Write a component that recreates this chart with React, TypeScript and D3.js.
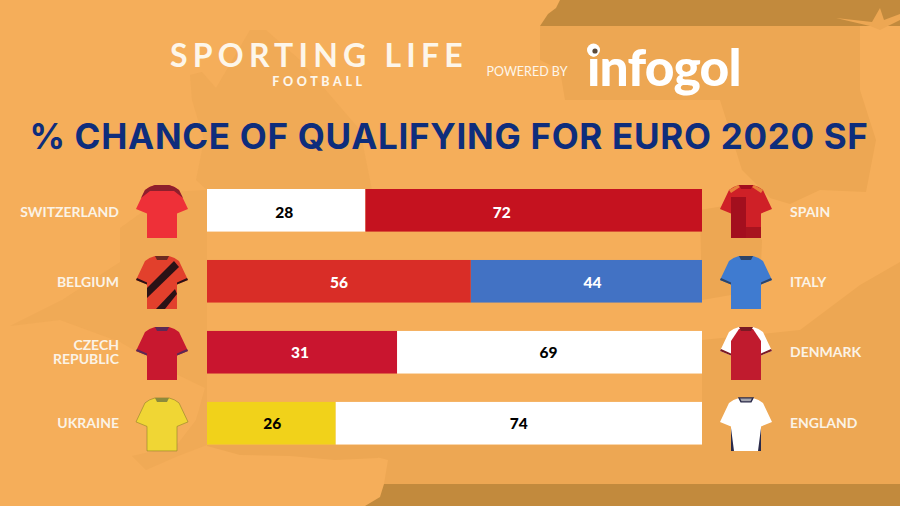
import * as d3 from "d3";

const leftTeams = ["SWITZERLAND", "BELGIUM", "CZECH REPUBLIC", "UKRAINE"];
const rightTeams = ["SPAIN", "ITALY", "DENMARK", "ENGLAND"];
const leftValues = [28, 56, 31, 26];
const rightValues = [72, 44, 69, 74];
// the reference's bars don't follow their printed numbers, so the drawn
// share of the left segment is read off the picture separately
const drawnLeftShare = [32, 53.3, 38.4, 26];
const leftColors = ["#ffffff", "#d92d27", "#c9152f", "#f1d21a"];
const rightColors = ["#c5121f", "#4272c4", "#ffffff", "#ffffff"];
const leftTextColors = ["#000000", "#ffffff", "#ffffff", "#000000"];
const rightTextColors = ["#ffffff", "#ffffff", "#000000", "#000000"];

const width = 900;
const height = 506;
const font = "Lato, 'Open Sans', sans-serif";
const rowNudge = [2, 1, 0, 0];
const leftNumberNudge = [-2, 0, -2, 1];
const rightNumberNudge = [-32, 6, -1, 0];

const x = d3.scaleLinear().domain([0, 100]).range([207, 702]);
const y = d3.scaleBand<number>().domain([0, 1, 2, 3]).range([189, 444.5]).paddingInner(0.4);

const SHIRT = "M-7,0 L7,0 Q13,1.5 17,5 L26,24 L15,28.5 L15,53 L-15,53 L-15,28.5 L-26,24 L-17,5 Q-13,1.5 -7,0 Z";
const YOKE = "M-7,0 L7,0 Q13,1.5 17,5 L21,13 L12,6 L-12,6 L-21,13 L-17,5 Q-13,1.5 -7,0 Z";
const COLLAR = "M-7,0 L7,0 L5,4 L-5,4 Z";
const CUFFS = "M-26,24 L-15,28.5 L-15,26.5 L-25,22 Z M26,24 L15,28.5 L15,26.5 L25,22 Z";

function Shirt({ team, cx, top }: { team: string; cx: number; top: number }) {
  const t = `translate(${cx},${top})`;
  if (team === "SWITZERLAND")
    return (
      <g transform={t}>
        <path d={SHIRT} fill="#ee3038" />
        <path d={YOKE} fill="#8e1f2c" />
      </g>
    );
  if (team === "BELGIUM")
    return (
      <g transform={t}>
        <path d={SHIRT} fill="#e2402c" />
        <path d="M-15,32 L12,5 L17,11 L-15,42 Z" fill="#2a1216" />
        <path d="M-6,53 L13,33 L15,38 L3,53 Z" fill="#2a1216" />
        <path d={CUFFS} fill="#2a1216" />
        <path d={COLLAR} fill="#6b2a20" />
      </g>
    );
  if (team === "CZECH REPUBLIC")
    return (
      <g transform={t}>
        <path d={SHIRT} fill="#c8182f" />
        <path d={CUFFS} fill="#5c2a55" />
        <path d={COLLAR} fill="#5c2a55" />
      </g>
    );
  if (team === "UKRAINE")
    return (
      <g transform={t}>
        <path d={SHIRT} fill="#f0d634" stroke="#8f7f2a" strokeWidth={0.6} />
        <path d={COLLAR} fill="#8d8a3c" />
      </g>
    );
  if (team === "SPAIN")
    return (
      <g transform={t}>
        <path d={SHIRT} fill="#cf2027" />
        <path d="M-15,12 L0,12 L0,53 L-15,53 Z" fill="#a30f1e" />
        <path d="M0,42 L15,42 L15,53 L0,53 Z" fill="#a8141f" />
        <path d="M-17,5 L-8,0 L-6,2 L-15,8 Z M17,5 L8,0 L6,2 L15,8 Z" fill="#e8813a" />
        <path d={COLLAR} fill="#a30f1e" />
      </g>
    );
  if (team === "ITALY")
    return (
      <g transform={t}>
        <path d={SHIRT} fill="#3f7bd0" />
        <path d={CUFFS} fill="#2d4468" />
        <path d={COLLAR} fill="#2d4468" />
      </g>
    );
  if (team === "DENMARK")
    return (
      <g transform={t}>
        <path d={SHIRT} fill="#ffffff" />
        <path d="M-7,2 L7,2 L15,14 L15,53 L-15,53 L-15,14 Z" fill="#c01b2e" />
        <path d={CUFFS} fill="#7a1a24" />
        <path d={COLLAR} fill="#7a1a24" />
      </g>
    );
  return (
    <g transform={t}>
      <path d={SHIRT} fill="#ffffff" />
      <path d="M-15,30 L-12,53 L-15,53 Z M15,30 L12,53 L15,53 Z" fill="#2a2a4a" />
      <path d={COLLAR} fill="#a5a5ad" stroke="#2a2a4a" strokeWidth={1.4} />
    </g>
  );
}

function TeamLabel({ name, px, anchor, cy }: { name: string; px: number; anchor: "start" | "end"; cy: number }) {
  const parts = name === "CZECH REPUBLIC" ? ["CZECH", "REPUBLIC"] : [name];
  const start = cy + 5 - (parts.length - 1) * 7;
  return (
    <text textAnchor={anchor} fontFamily={font} fontWeight={700} fontSize={14} fill="#fbf3e6">
      {parts.map((p, i) => (
        <tspan key={p} x={px} y={start + i * 14}>
          {p}
        </tspan>
      ))}
    </text>
  );
}

export default function App() {
  const rows = d3.range(leftTeams.length);
  return (
    <svg
      width={width}
      height={height}
      viewBox={`0 0 ${width} ${height}`}
      style={{ position: "absolute", left: 0, top: 0 }}
    >
      <rect width={width} height={height} fill="#f5ae5a" />
      {/* map silhouettes behind the chart */}
      <g fill="#eda753">
        <path d="M190,75 L202,72 L216,88 L250,30 L266,30 L300,60 L360,130 L372,190 L207,190 L196,180 L204,140 L192,100 Z" opacity={0.6} />
        <path d="M120,228 L170,192 L207,190 L207,445 L178,456 L146,470 L132,456 L176,446 L196,420 L205,388 L172,372 L120,342 L60,320 L10,326 L62,300 L120,262 Z" opacity={0.6} />
        <path d="M540,26 L860,26 L860,90 L876,140 L866,192 L820,190 L790,204 L770,198 L742,170 L720,100 L620,100 L565,100 L560,70 L540,60 Z" />
        <path d="M700,210 L730,205 L762,240 L760,290 L702,300 Z" />
        <path d="M702,340 L800,330 L860,285 L900,262 L900,484 L384,484 L388,460 L330,445 L702,445 Z" />
        <path d="M207,445 L385,445 L378,458 L335,460 L290,456 L240,455 L207,446 Z" />
      </g>
      {/* top and bottom bands */}
      <path d="M540,26 L548,14 L556,8 L560,0 L900,0 L900,26 Z" fill="#c28a3d" />
      <path d="M365,506 L380,497 L384,484 L900,484 L900,506 Z" fill="#c28a3d" />
      <path d="M836,18 L872,22 L880,8 L884,20 L900,14 L900,20 L880,30 L870,26 Z" fill="#eda753" />

      {/* header */}
      <text x={319} y={67} textAnchor="middle" fontFamily={font} fontWeight={700} fontSize={32} letterSpacing={5.2} fill="#fdf6ea">
        SPORTING LIFE
      </text>
      <text x={319} y={86} textAnchor="middle" fontFamily={font} fontWeight={900} fontSize={12.5} letterSpacing={3.6} fill="#fdf6ea">
        FOOTBALL
      </text>
      <text x={527} y={76} textAnchor="middle" fontFamily={font} fontSize={12.5} fill="#fdf6ea">
        POWERED BY
      </text>
      <text x={587} y={86} fontFamily={font} fontWeight={900} fontSize={51.5} letterSpacing={-0.8} fill="#ffffff">
        infogol
      </text>
      <circle cx={593.5} cy={50} r={6.5} fill="#ffffff" />
      <circle cx={595} cy={51} r={2.6} fill="#5b4a3a" />

      <text x={449} y={149} textAnchor="middle" fontFamily="Inter, sans-serif" fontWeight={700} fontSize={35} letterSpacing={0.7} fill="#0e2d7c">
        % CHANCE OF QUALIFYING FOR EURO 2020 SF
      </text>

      {rows.map((i) => {
        const top = y(i) as number;
        const bh = y.bandwidth();
        const cy = top + bh / 2;
        const split = x(drawnLeftShare[i]);
        const labelY = cy + rowNudge[i];
        return (
          <g key={leftTeams[i]}>
            <TeamLabel name={leftTeams[i]} px={119} anchor="end" cy={labelY} />
            <Shirt team={leftTeams[i]} cx={162} top={top - 4} />
            <rect x={x(0)} y={top} width={split - x(0)} height={bh} fill={leftColors[i]} />
            <rect x={split} y={top} width={x(100) - split} height={bh} fill={rightColors[i]} />
            <text x={(x(0) + split) / 2 + leftNumberNudge[i]} y={labelY + 5.5} textAnchor="middle" fontFamily={font} fontWeight={900} fontSize={15.5} fill={leftTextColors[i]}>
              {leftValues[i]}
            </text>
            <text x={(split + x(100)) / 2 + rightNumberNudge[i]} y={labelY + 5.5} textAnchor="middle" fontFamily={font} fontWeight={900} fontSize={15.5} fill={rightTextColors[i]}>
              {rightValues[i]}
            </text>
            <Shirt team={rightTeams[i]} cx={746} top={top - 4} />
            <TeamLabel name={rightTeams[i]} px={790} anchor="start" cy={labelY} />
          </g>
        );
      })}
    </svg>
  );
}
